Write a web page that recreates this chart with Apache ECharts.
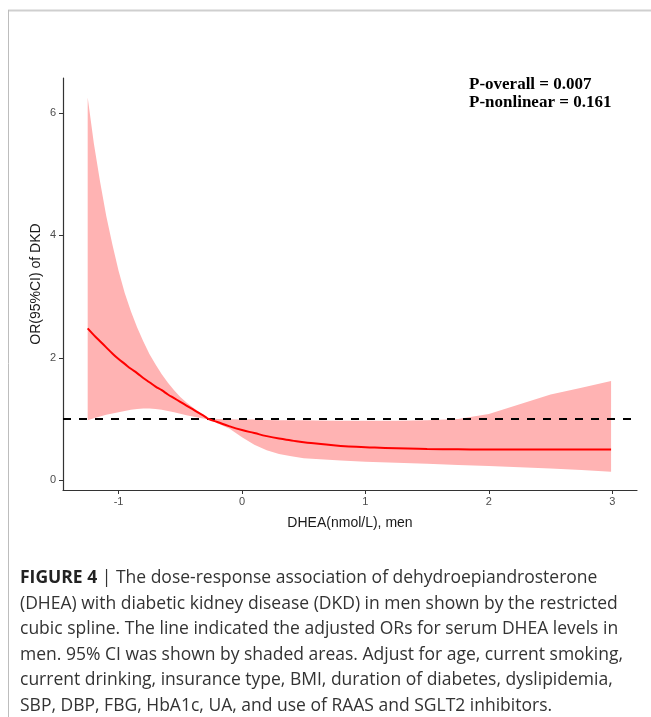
<!DOCTYPE html>
<html>
<head>
<meta charset="utf-8">
<script src="https://cdn.jsdelivr.net/npm/echarts@6/dist/echarts.min.js"></script>
<style>
  html, body { margin: 0; padding: 0; background: #fff; }
  #chart { width: 651px; height: 717px; }
</style>
</head>
<body>
<div id="chart"></div>
<script>
// ---- data ----
const dhea    = [-1.25, -1.20, -1.15, -1.10, -1.05, -1.00, -0.95, -0.90, -0.85, -0.80, -0.75, -0.70, -0.65, -0.60, -0.55, -0.50, -0.45, -0.40, -0.35, -0.30, -0.27, -0.20, -0.10, 0, 0.1, 0.2, 0.3, 0.4, 0.5, 0.6, 0.8, 1.0, 1.25, 1.5, 1.75, 2.0, 2.25, 2.5, 2.75, 2.99];
const orEst   = [2.48, 2.37, 2.27, 2.17, 2.07, 1.98, 1.90, 1.82, 1.75, 1.67, 1.60, 1.53, 1.47, 1.40, 1.34, 1.28, 1.22, 1.16, 1.10, 1.04, 1.00, 0.95, 0.88, 0.82, 0.77, 0.72, 0.68, 0.65, 0.62, 0.60, 0.56, 0.54, 0.52, 0.51, 0.505, 0.50, 0.50, 0.50, 0.50, 0.50];
const ciUpper = [6.25, 5.50, 4.88, 4.32, 3.85, 3.42, 3.06, 2.76, 2.50, 2.27, 2.06, 1.89, 1.73, 1.59, 1.47, 1.36, 1.27, 1.19, 1.12, 1.05, 1.01, 1.00, 0.995, 0.99, 0.99, 0.985, 0.98, 0.98, 0.98, 0.975, 0.97, 0.97, 0.97, 0.98, 1.00, 1.08, 1.24, 1.40, 1.51, 1.62];
const ciLower = [0.98, 1.01, 1.04, 1.07, 1.09, 1.11, 1.13, 1.15, 1.165, 1.17, 1.17, 1.165, 1.15, 1.13, 1.11, 1.085, 1.06, 1.04, 1.02, 1.005, 0.995, 0.93, 0.84, 0.70, 0.58, 0.49, 0.43, 0.39, 0.36, 0.345, 0.32, 0.30, 0.285, 0.27, 0.25, 0.23, 0.21, 0.19, 0.165, 0.14];
const refLine = 1;
const xTicks = [-1, 0, 1, 2, 3];
const yTicks = [0, 2, 4, 6];
const xTitle = 'DHEA(nmol/L), men';
const yTitle = 'OR(95%CI) of DKD';
const pTexts = ['P-overall = 0.007', 'P-nonlinear = 0.161'];
const captionLines = [
  '{b|FIGURE 4} | The dose-response association of dehydroepiandrosterone',
  '(DHEA) with diabetic kidney disease (DKD) in men shown by the restricted',
  'cubic spline. The line indicated the adjusted ORs for serum DHEA levels in',
  'men. 95% CI was shown by shaded areas. Adjust for age, current smoking,',
  'current drinking, insurance type, BMI, duration of diabetes, dyslipidemia,',
  'SBP, DBP, FBG, HbA1c, UA, and use of RAAS and SGLT2 inhibitors.'
];

const bandData = dhea.map((x, i) => [x, ciLower[i], ciUpper[i]]);
const lineData = dhea.map((x, i) => [x, orEst[i]]);

const chart = echarts.init(document.getElementById('chart'), null, { renderer: 'canvas' });

const capFont = '"Open Sans", "Liberation Sans", sans-serif';
const graphics = [
  { type: 'line', shape: { x1: 8, y1: 10.5, x2: 651, y2: 10.5 }, style: { stroke: '#cfcfcf', lineWidth: 2 }, silent: true },
  { type: 'line', shape: { x1: 8.5, y1: 10, x2: 8.5, y2: 717 }, style: { stroke: '#bdbdbd', lineWidth: 1 }, silent: true }
];
pTexts.forEach((t, i) => {
  graphics.push({
    type: 'text', left: 469, top: 76 + i * 18,
    style: { text: t, font: 'bold 17px "Liberation Serif", serif', fill: '#000' }
  });
});
captionLines.forEach((t, i) => {
  graphics.push({
    type: 'text', left: 20, top: 569 + i * 25.6,
    style: {
      text: t,
      font: '17.5px ' + capFont,
      fill: '#333',
      rich: { b: { fontWeight: 'bold', fontSize: 17.5, fontFamily: capFont, fill: '#222' } }
    }
  });
});

chart.setOption({
  animation: false,
  backgroundColor: '#fff',
  grid: { left: 63, right: 14, top: 78, bottom: 227, containLabel: false },
  xAxis: {
    type: 'value', min: -1.45, max: 3.2,
    name: xTitle, nameLocation: 'middle', nameGap: 26,
    nameTextStyle: { fontFamily: '"Liberation Sans", Arial, sans-serif', fontSize: 14, color: '#1a1a1a' },
    axisLine: { show: true, onZero: false, lineStyle: { color: '#333', width: 1.2 } },
    axisTick: { show: true, length: 4, customValues: xTicks, lineStyle: { color: '#333' } },
    axisLabel: { customValues: xTicks, margin: 6, fontFamily: '"Liberation Sans", Arial, sans-serif', fontSize: 11, color: '#4d4d4d' },
    splitLine: { show: false }
  },
  yAxis: {
    type: 'value', min: -0.16, max: 6.57,
    name: yTitle, nameLocation: 'middle', nameGap: 20, nameRotate: 90, nameMoveOverlap: false,
    nameTextStyle: { fontFamily: '"Liberation Sans", Arial, sans-serif', fontSize: 14, color: '#1a1a1a' },
    axisLine: { show: true, onZero: false, lineStyle: { color: '#333', width: 1.2 } },
    axisTick: { show: true, length: 4, customValues: yTicks, lineStyle: { color: '#333' } },
    axisLabel: { customValues: yTicks, margin: 7, fontFamily: '"Liberation Sans", Arial, sans-serif', fontSize: 11, color: '#4d4d4d' },
    splitLine: { show: false }
  },
  series: [
    {
      type: 'custom', name: 'band', data: bandData, silent: true, z: 1,
      encode: { x: 0, y: [1, 2] },
      renderItem: function (params, api) {
        if (params.dataIndex !== 0) return null;
        const pts = [];
        for (let i = 0; i < dhea.length; i++) pts.push(api.coord([dhea[i], ciUpper[i]]));
        for (let i = dhea.length - 1; i >= 0; i--) pts.push(api.coord([dhea[i], ciLower[i]]));
        return {
          type: 'polygon',
          shape: { points: pts },
          style: { fill: '#FFB3B3', stroke: null }
        };
      }
    },
    {
      type: 'line', name: 'OR', data: lineData, smooth: true,
      symbol: 'none', lineStyle: { color: '#FF0000', width: 2 }, z: 5,
      markLine: {
        silent: true, symbol: 'none', label: { show: false },
        lineStyle: { color: '#000', type: [8, 8], width: 2 },
        data: [{ yAxis: refLine }]
      }
    }
  ],
  graphic: graphics
});
</script>
</body>
</html>
